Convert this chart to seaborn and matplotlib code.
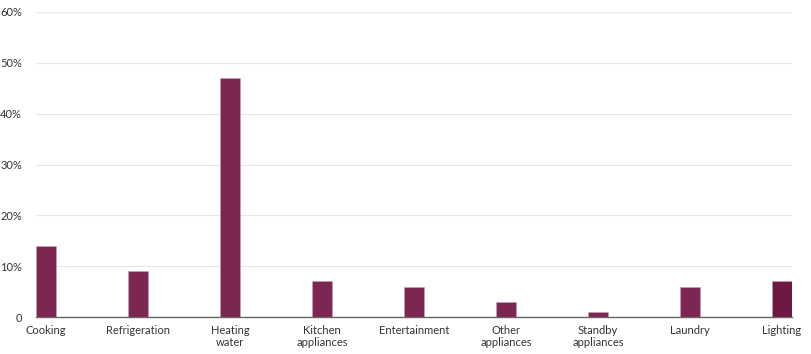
import seaborn as sns
import matplotlib.pyplot as plt
import pandas as pd
from matplotlib.ticker import FuncFormatter

# share of household energy use by category (%)
categories = ["Cooking", "Refrigeration", "Heating\nwater", "Kitchen\nappliances",
              "Entertainment", "Other\nappliances", "Standby\nappliances", "Laundry", "Lighting"]
shares = [14, 9, 47, 7, 6, 3, 1, 6, 7]
bar_colors = ["#7b2752"] * 8 + ["#6d1742"]

df = pd.DataFrame({"category": categories, "share": shares})

sns.set_style("white")
plt.rcParams["font.family"] = ["Lato", "DejaVu Sans"]

fig = plt.figure(figsize=(8.11, 3.54), dpi=100)
ax = fig.add_axes([36 / 811, 1 - 317 / 354, 756 / 811, 305 / 354])

sns.barplot(data=df, x="category", y="share", hue="category", palette=bar_colors,
            width=0.217, legend=False, ax=ax, saturation=1,
            edgecolor="#c9a3b6", linewidth=0.4)

ax.set_xlim(-0.109, 8.109)
ax.set_ylim(0, 60)
ax.set_yticks(range(0, 61, 10))
ax.yaxis.set_major_formatter(FuncFormatter(lambda v, p: "0" if v == 0 else f"{v:.0f}%"))
ax.grid(axis="y", color="#e6e6e6", linewidth=0.8)
ax.set_axisbelow(True)
for s in ["top", "right", "left"]:
    ax.spines[s].set_visible(False)
ax.spines["bottom"].set_color("#666666")
ax.spines["bottom"].set_linewidth(1)
ax.tick_params(axis="both", length=0, labelsize=8, colors="#333333")
ax.tick_params(axis="y", pad=10)
ax.tick_params(axis="x", pad=6)
for t in ax.get_xticklabels():
    t.set_linespacing(1.05)
ax.set_xlabel("")
ax.set_ylabel("")

fig.savefig("out.png", dpi=100)
